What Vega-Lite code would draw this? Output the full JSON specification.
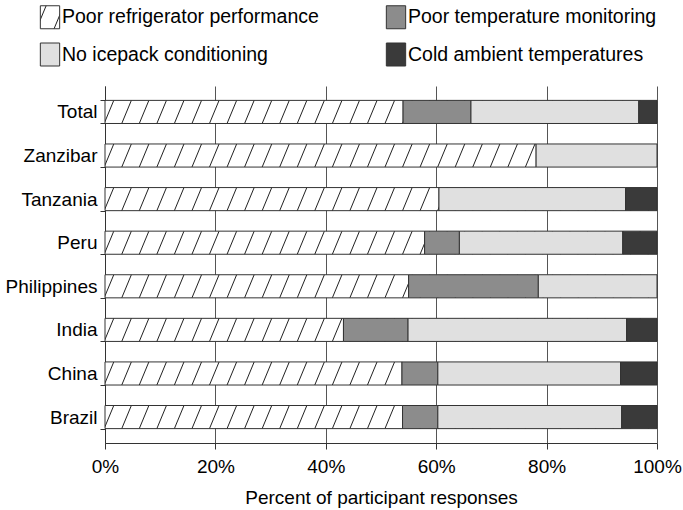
{
  "$schema": "https://vega.github.io/schema/vega-lite/v6.json",
  "width": 552,
  "height": 357,
  "autosize": {"type": "none"},
  "padding": {"left": 105, "top": 86, "right": 26, "bottom": 67},
  "background": "white",
  "config": {
    "view": {"stroke": null},
    "font": "Liberation Sans",
    "legend": {
      "symbolBaseFillColor": {"expr": "datum.value === 'Poor temperature monitoring' ? '#8c8c8c' : datum.value === 'No icepack conditioning' ? '#e0e0e0' : datum.value === 'Cold ambient temperatures' ? '#3a3a3a' : {gradient: 'linear', x1: 0, y1: 0, x2: 1.2006, y2: 0.5964, stops: [{offset: 0, color: '#ffffff'}, {offset: 0.165, color: '#ffffff'}, {offset: 0.2, color: '#222222'}, {offset: 0.235, color: '#ffffff'}, {offset: 0.771, color: '#ffffff'}, {offset: 0.806, color: '#222222'}, {offset: 0.841, color: '#ffffff'}, {offset: 1, color: '#ffffff'}]}"}
    }
  },
  "data": {"values": [
    {"country": "Total", "cause": "Poor refrigerator performance", "pct": 54.0, "idx": 1},
    {"country": "Total", "cause": "Poor temperature monitoring", "pct": 12.3, "idx": 2},
    {"country": "Total", "cause": "No icepack conditioning", "pct": 30.4, "idx": 3},
    {"country": "Total", "cause": "Cold ambient temperatures", "pct": 3.3, "idx": 4},
    {"country": "Zanzibar", "cause": "Poor refrigerator performance", "pct": 78.1, "idx": 1},
    {"country": "Zanzibar", "cause": "No icepack conditioning", "pct": 21.9, "idx": 3},
    {"country": "Tanzania", "cause": "Poor refrigerator performance", "pct": 60.5, "idx": 1},
    {"country": "Tanzania", "cause": "No icepack conditioning", "pct": 33.8, "idx": 3},
    {"country": "Tanzania", "cause": "Cold ambient temperatures", "pct": 5.7, "idx": 4},
    {"country": "Peru", "cause": "Poor refrigerator performance", "pct": 57.9, "idx": 1},
    {"country": "Peru", "cause": "Poor temperature monitoring", "pct": 6.3, "idx": 2},
    {"country": "Peru", "cause": "No icepack conditioning", "pct": 29.6, "idx": 3},
    {"country": "Peru", "cause": "Cold ambient temperatures", "pct": 6.2, "idx": 4},
    {"country": "Philippines", "cause": "Poor refrigerator performance", "pct": 55.0, "idx": 1},
    {"country": "Philippines", "cause": "Poor temperature monitoring", "pct": 23.5, "idx": 2},
    {"country": "Philippines", "cause": "No icepack conditioning", "pct": 21.5, "idx": 3},
    {"country": "India", "cause": "Poor refrigerator performance", "pct": 43.2, "idx": 1},
    {"country": "India", "cause": "Poor temperature monitoring", "pct": 11.7, "idx": 2},
    {"country": "India", "cause": "No icepack conditioning", "pct": 39.6, "idx": 3},
    {"country": "India", "cause": "Cold ambient temperatures", "pct": 5.5, "idx": 4},
    {"country": "China", "cause": "Poor refrigerator performance", "pct": 53.8, "idx": 1},
    {"country": "China", "cause": "Poor temperature monitoring", "pct": 6.5, "idx": 2},
    {"country": "China", "cause": "No icepack conditioning", "pct": 33.1, "idx": 3},
    {"country": "China", "cause": "Cold ambient temperatures", "pct": 6.6, "idx": 4},
    {"country": "Brazil", "cause": "Poor refrigerator performance", "pct": 53.9, "idx": 1},
    {"country": "Brazil", "cause": "Poor temperature monitoring", "pct": 6.4, "idx": 2},
    {"country": "Brazil", "cause": "No icepack conditioning", "pct": 33.3, "idx": 3},
    {"country": "Brazil", "cause": "Cold ambient temperatures", "pct": 6.4, "idx": 4}
  ]},
  "encoding": {
    "y": {
      "field": "country", "type": "nominal",
      "sort": ["Total", "Zanzibar", "Tanzania", "Peru", "Philippines", "India", "China", "Brazil"],
      "scale": {"paddingInner": 0.47, "paddingOuter": 0.33},
      "axis": {"title": null, "tickBand": "extent", "tickSize": 5, "tickColor": "#333", "domainColor": "#333", "labelFontSize": 19, "labelColor": "#000", "labelPadding": 3, "labelLimit": 200, "grid": false}
    }
  },
  "layer": [
    {
      "mark": {"type": "bar", "stroke": null, "fill": {"gradient": "linear", "x1": 0, "y1": 0, "x2": 1.01706, "y2": 0.017657, "stops": [
        {"offset": 0, "color": "#ffffff"},
        {"offset": 0.0138, "color": "#ffffff"}, {"offset": 0.0156, "color": "#222222"}, {"offset": 0.0174, "color": "#ffffff"},
        {"offset": 0.0451, "color": "#ffffff"}, {"offset": 0.0469, "color": "#222222"}, {"offset": 0.0487, "color": "#ffffff"},
        {"offset": 0.0763, "color": "#ffffff"}, {"offset": 0.0781, "color": "#222222"}, {"offset": 0.0799, "color": "#ffffff"},
        {"offset": 0.1076, "color": "#ffffff"}, {"offset": 0.1094, "color": "#222222"}, {"offset": 0.1112, "color": "#ffffff"},
        {"offset": 0.1388, "color": "#ffffff"}, {"offset": 0.1406, "color": "#222222"}, {"offset": 0.1424, "color": "#ffffff"},
        {"offset": 0.1701, "color": "#ffffff"}, {"offset": 0.1719, "color": "#222222"}, {"offset": 0.1737, "color": "#ffffff"},
        {"offset": 0.2013, "color": "#ffffff"}, {"offset": 0.2031, "color": "#222222"}, {"offset": 0.2049, "color": "#ffffff"},
        {"offset": 0.2326, "color": "#ffffff"}, {"offset": 0.2344, "color": "#222222"}, {"offset": 0.2362, "color": "#ffffff"},
        {"offset": 0.2638, "color": "#ffffff"}, {"offset": 0.2656, "color": "#222222"}, {"offset": 0.2674, "color": "#ffffff"},
        {"offset": 0.2951, "color": "#ffffff"}, {"offset": 0.2969, "color": "#222222"}, {"offset": 0.2987, "color": "#ffffff"},
        {"offset": 0.3263, "color": "#ffffff"}, {"offset": 0.3281, "color": "#222222"}, {"offset": 0.3299, "color": "#ffffff"},
        {"offset": 0.3576, "color": "#ffffff"}, {"offset": 0.3594, "color": "#222222"}, {"offset": 0.3612, "color": "#ffffff"},
        {"offset": 0.3888, "color": "#ffffff"}, {"offset": 0.3906, "color": "#222222"}, {"offset": 0.3924, "color": "#ffffff"},
        {"offset": 0.4201, "color": "#ffffff"}, {"offset": 0.4219, "color": "#222222"}, {"offset": 0.4237, "color": "#ffffff"},
        {"offset": 0.4513, "color": "#ffffff"}, {"offset": 0.4531, "color": "#222222"}, {"offset": 0.4549, "color": "#ffffff"},
        {"offset": 0.4826, "color": "#ffffff"}, {"offset": 0.4844, "color": "#222222"}, {"offset": 0.4862, "color": "#ffffff"},
        {"offset": 0.5138, "color": "#ffffff"}, {"offset": 0.5156, "color": "#222222"}, {"offset": 0.5174, "color": "#ffffff"},
        {"offset": 0.5451, "color": "#ffffff"}, {"offset": 0.5469, "color": "#222222"}, {"offset": 0.5487, "color": "#ffffff"},
        {"offset": 0.5763, "color": "#ffffff"}, {"offset": 0.5781, "color": "#222222"}, {"offset": 0.5799, "color": "#ffffff"},
        {"offset": 0.6076, "color": "#ffffff"}, {"offset": 0.6094, "color": "#222222"}, {"offset": 0.6112, "color": "#ffffff"},
        {"offset": 0.6388, "color": "#ffffff"}, {"offset": 0.6406, "color": "#222222"}, {"offset": 0.6424, "color": "#ffffff"},
        {"offset": 0.6701, "color": "#ffffff"}, {"offset": 0.6719, "color": "#222222"}, {"offset": 0.6737, "color": "#ffffff"},
        {"offset": 0.7013, "color": "#ffffff"}, {"offset": 0.7031, "color": "#222222"}, {"offset": 0.7049, "color": "#ffffff"},
        {"offset": 0.7326, "color": "#ffffff"}, {"offset": 0.7344, "color": "#222222"}, {"offset": 0.7362, "color": "#ffffff"},
        {"offset": 0.7638, "color": "#ffffff"}, {"offset": 0.7656, "color": "#222222"}, {"offset": 0.7674, "color": "#ffffff"},
        {"offset": 0.7951, "color": "#ffffff"}, {"offset": 0.7969, "color": "#222222"}, {"offset": 0.7987, "color": "#ffffff"},
        {"offset": 0.8263, "color": "#ffffff"}, {"offset": 0.8281, "color": "#222222"}, {"offset": 0.8299, "color": "#ffffff"},
        {"offset": 0.8576, "color": "#ffffff"}, {"offset": 0.8594, "color": "#222222"}, {"offset": 0.8612, "color": "#ffffff"},
        {"offset": 0.8888, "color": "#ffffff"}, {"offset": 0.8906, "color": "#222222"}, {"offset": 0.8924, "color": "#ffffff"},
        {"offset": 0.9201, "color": "#ffffff"}, {"offset": 0.9219, "color": "#222222"}, {"offset": 0.9237, "color": "#ffffff"},
        {"offset": 0.9513, "color": "#ffffff"}, {"offset": 0.9531, "color": "#222222"}, {"offset": 0.9549, "color": "#ffffff"},
        {"offset": 0.9826, "color": "#ffffff"}, {"offset": 0.9844, "color": "#222222"}, {"offset": 0.9862, "color": "#ffffff"},
        {"offset": 1, "color": "#ffffff"}
      ]}},
      "encoding": {
        "x": {
          "aggregate": "sum", "field": "pct", "type": "quantitative",
          "title": "Percent of participant responses",
          "scale": {"domain": [0, 100]},
          "axis": {"values": [0, 20, 40, 60, 80, 100], "labelExpr": "datum.value + '%'", "labelFlush": false, "labelOverlap": false, "grid": true, "gridColor": "#555", "gridWidth": 1, "tickSize": 6, "tickColor": "#333", "domainColor": "#333", "labelFontSize": 19, "labelColor": "#000", "labelPadding": 8, "titleFontSize": 19, "titleFontWeight": "normal", "titleColor": "#000", "titlePadding": 12}
        }
      }
    },
    {
      "mark": {"type": "bar", "stroke": "#333", "strokeWidth": 1},
      "encoding": {
        "x": {
          "field": "pct", "type": "quantitative", "stack": "zero",
          "title": "Percent of participant responses",
          "scale": {"domain": [0, 100]},
          "axis": {"values": [0, 20, 40, 60, 80, 100], "labelExpr": "datum.value + '%'", "labelFlush": false, "labelOverlap": false, "grid": true, "gridColor": "#555", "gridWidth": 1, "tickSize": 6, "tickColor": "#333", "domainColor": "#333", "labelFontSize": 19, "labelColor": "#000", "labelPadding": 8, "titleFontSize": 19, "titleFontWeight": "normal", "titleColor": "#000", "titlePadding": 12}
        },
        "order": {"field": "idx", "type": "quantitative", "sort": "ascending"},
        "fill": {
          "field": "cause", "type": "nominal",
          "scale": {
            "domain": ["Cold ambient temperatures", "No icepack conditioning", "Poor temperature monitoring", "Poor refrigerator performance"],
            "range": ["#3a3a3a", "#e0e0e0", "#8c8c8c", "transparent"]
          },
          "legend": null
        },
        "opacity": {
          "field": "cause", "type": "nominal",
          "scale": {
            "domain": ["Poor refrigerator performance", "Poor temperature monitoring", "No icepack conditioning", "Cold ambient temperatures"],
            "range": [1, 1]
          },
          "legend": {
            "title": null, "orient": "none", "legendX": -67, "legendY": -81,
            "direction": "horizontal", "columns": 2,
            "symbolType": "M-0.84,-1H0.84V1H-0.84Z", "symbolSize": 529,
            "symbolStrokeWidth": 1,
            "labelFontSize": 19.5, "labelColor": "#000", "labelLimit": 400, "labelOffset": 0,
            "rowPadding": 9.5, "columnPadding": 65
          }
        }
      }
    }
  ]
}
